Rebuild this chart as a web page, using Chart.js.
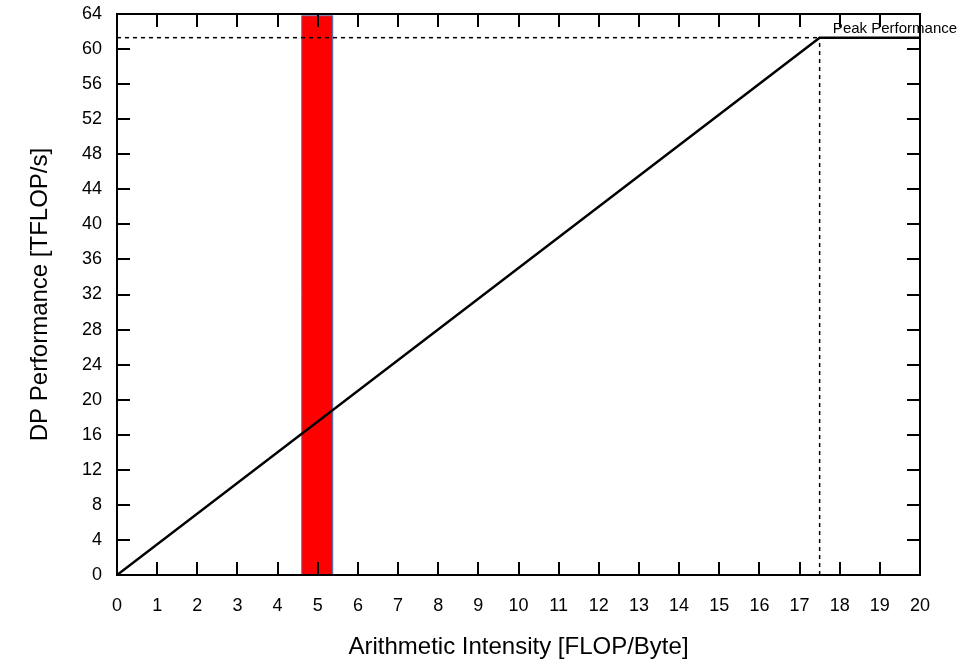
<!DOCTYPE html>
<html>
<head>
<meta charset="utf-8">
<script src="https://cdn.jsdelivr.net/npm/chart.js@4/dist/chart.umd.min.js"></script>
<style>
  html, body { margin: 0; padding: 0; background: #fff; }
  #wrap { width: 974px; height: 660px; }
</style>
</head>
<body>
<div id="wrap"><canvas id="roofChart" width="974" height="660"></canvas></div>
<script>
// roofline: memory bound slope up to the ridge point, then flat at peak
const rooflineX = [0, 17.5, 20];
const rooflineY = [0, 61.3, 61.3];

// dashed guides to the ridge point
const peakGuideX = [0, 17.5];
const peakGuideY = [61.3, 61.3];
const ridgeGuideX = [17.5, 17.5];
const ridgeGuideY = [0, 61.3];

// shaded intensity band (polygon corners)
const bandX = [4.6, 4.6, 5.37, 5.37];
const bandY = [0, 63.8, 63.8, 0];

const peakLabel = 'Peak Performance';
const peakLabelAt = [17.83, 62.3];

const xTitle = 'Arithmetic Intensity [FLOP/Byte]';
const yTitle = 'DP Performance [TFLOP/s]';

function pts(xs, ys) {
  return xs.map(function (x, i) { return { x: x, y: ys[i] }; });
}

// gnuplot-like frame with inward ticks on all four sides
const framePlugin = {
  id: 'frame',
  afterDatasetsDraw: function (chart) {
    const ctx = chart.ctx;
    const a = chart.chartArea;
    const xs = chart.scales.x, ys = chart.scales.y;
    const len = 13;
    ctx.save();
    ctx.strokeStyle = '#000';
    ctx.lineWidth = 2;
    ctx.beginPath();
    xs.ticks.forEach(function (t, i) {
      const px = Math.round(xs.getPixelForTick(i));
      ctx.moveTo(px, a.bottom); ctx.lineTo(px, a.bottom - len);
      ctx.moveTo(px, a.top); ctx.lineTo(px, a.top + len);
    });
    ys.ticks.forEach(function (t, i) {
      const py = Math.round(ys.getPixelForTick(i));
      ctx.moveTo(a.left, py); ctx.lineTo(a.left + len, py);
      ctx.moveTo(a.right, py); ctx.lineTo(a.right - len, py);
    });
    ctx.stroke();
    ctx.strokeRect(a.left, a.top, a.right - a.left, a.bottom - a.top);

    ctx.fillStyle = '#000';
    ctx.font = '15px "Liberation Sans", Arial, sans-serif';
    ctx.textAlign = 'left';
    ctx.textBaseline = 'middle';
    ctx.fillText(peakLabel, xs.getPixelForValue(peakLabelAt[0]), ys.getPixelForValue(peakLabelAt[1]));
    ctx.restore();
  }
};

const tickFont = { family: '"Liberation Sans", Arial, sans-serif', size: 18 };
const titleFont = { family: '"Liberation Sans", Arial, sans-serif', size: 24, lineHeight: 1 };

new Chart(document.getElementById('roofChart'), {
  type: 'line',
  data: {
    datasets: [
      {
        data: pts(rooflineX, rooflineY),
        borderColor: '#000',
        borderWidth: 2.5,
        pointRadius: 0,
        fill: false,
        order: 1
      },
      {
        data: pts(peakGuideX, peakGuideY),
        borderColor: '#000',
        borderWidth: 1.5,
        borderDash: [4, 4],
        pointRadius: 0,
        fill: false,
        order: 2
      },
      {
        data: pts(ridgeGuideX, ridgeGuideY),
        borderColor: '#000',
        borderWidth: 1.5,
        borderDash: [4, 4],
        pointRadius: 0,
        fill: false,
        order: 2
      },
      {
        data: pts(bandX, bandY),
        borderColor: '#5b72a8',
        borderWidth: 1,
        backgroundColor: '#ff0000',
        pointRadius: 0,
        fill: 'origin',
        order: 3
      }
    ]
  },
  options: {
    responsive: false,
    animation: false,
    layout: { padding: { top: 14, right: 54, left: 0, bottom: 0 } },
    plugins: { legend: { display: false }, tooltip: { enabled: false } },
    scales: {
      x: {
        type: 'linear',
        min: 0,
        max: 20,
        grid: { display: false, drawTicks: false },
        border: { display: false },
        ticks: { stepSize: 1, color: '#000', font: tickFont, padding: 20, maxRotation: 0 },
        title: { display: true, text: xTitle, color: '#000', font: titleFont, padding: { top: 0, bottom: 1 } },
        afterFit: function (s) { s.height = 85; s.paddingLeft = 0; s.paddingRight = 0; }
      },
      y: {
        type: 'linear',
        min: 0,
        max: 64,
        grid: { display: false, drawTicks: false },
        border: { display: false },
        ticks: { stepSize: 4, color: '#000', font: tickFont, padding: 15 },
        title: { display: true, text: yTitle, color: '#000', font: titleFont, padding: { top: 28, bottom: 0 } },
        afterFit: function (s) { s.width = 117; s.paddingTop = 0; s.paddingBottom = 0; }
      }
    }
  },
  plugins: [framePlugin]
});
</script>
</body>
</html>
